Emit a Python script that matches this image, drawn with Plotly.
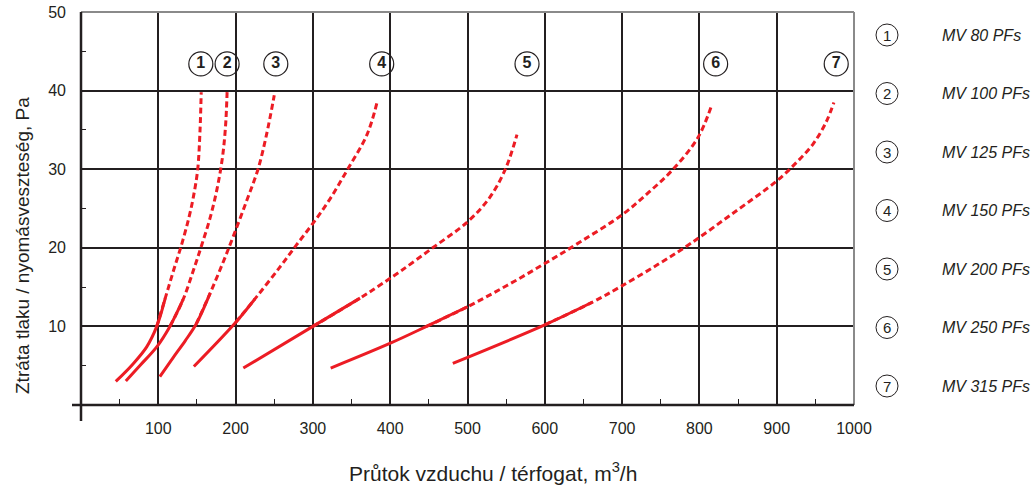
import plotly.graph_objects as go

# ---- data (flow m3/h, pressure loss Pa) ----
names = ["MV 80 PFs", "MV 100 PFs", "MV 125 PFs", "MV 150 PFs",
         "MV 200 PFs", "MV 250 PFs", "MV 315 PFs"]
numbers = ["1", "2", "3", "4", "5", "6", "7"]

flow_1 = [45, 67, 85, 98, 109, 120, 131, 140, 146, 151, 154, 155.5]
dp_1 = [3.0, 5.2, 7.4, 10.0, 13.6, 17.2, 20.7, 24.0, 26.8, 30.0, 35.0, 39.8]
solid_1 = 5

flow_2 = [58, 76, 98, 115, 132, 147, 156, 167, 176, 183, 187, 189]
dp_2 = [3.05, 5.0, 7.4, 10.0, 13.4, 17.6, 20.3, 23.8, 27.5, 31.5, 35.5, 39.8]
solid_2 = 5

flow_3 = [102, 119, 135, 149, 167, 184, 196, 214, 229, 240, 250]
dp_3 = [3.6, 6.0, 8.2, 10.3, 14.2, 18.2, 21.2, 25.9, 30.0, 34.4, 39.4]
solid_3 = 5

flow_4 = [146, 200, 225, 257, 279, 300, 322, 345, 370, 383]
dp_4 = [4.9, 10.5, 13.5, 17.5, 20.4, 23.1, 26.2, 30.0, 34.4, 38.5]
solid_4 = 3

flow_5 = [210, 300, 361, 386, 413, 455, 500, 528, 549, 564]
dp_5 = [4.7, 10.0, 13.6, 15.2, 17.0, 20.0, 23.3, 26.3, 30.0, 34.4]
solid_5 = 3

flow_6 = [323, 401, 447, 500, 551, 600, 645, 700, 735, 766, 798, 815]
dp_6 = [4.7, 7.9, 10.0, 12.5, 15.2, 18.0, 20.7, 24.2, 27.1, 30.0, 34.0, 37.9]
solid_6 = 4

flow_7 = [481, 600, 662, 697, 745, 788, 842, 900, 925, 947, 964, 974]
dp_7 = [5.3, 10.2, 13.1, 15.0, 17.8, 20.5, 24.3, 28.5, 30.8, 33.2, 36.0, 38.5]
solid_7 = 3

label_flow = [155, 189, 252, 389, 577, 821, 977]
label_dp = [43.4, 43.4, 43.4, 43.4, 43.4, 43.4, 43.4]

x_ticks = [100, 200, 300, 400, 500, 600, 700, 800, 900, 1000]
y_ticks = [10, 20, 30, 40, 50]
x_minor = [50, 150, 250, 350, 450, 550, 650, 750, 850, 950]
y_minor = [5, 15, 25, 35, 45]

series = [(flow_1, dp_1, solid_1), (flow_2, dp_2, solid_2), (flow_3, dp_3, solid_3),
          (flow_4, dp_4, solid_4), (flow_5, dp_5, solid_5), (flow_6, dp_6, solid_6),
          (flow_7, dp_7, solid_7)]

RED = "#ec1c24"
INK = "#231f20"
FONT = "Liberation Sans, Arial, Helvetica, sans-serif"

fig = go.Figure()
for (fx, fy, ns), nm in zip(series, names):
    fig.add_trace(go.Scatter(x=fx[ns - 2:], y=fy[ns - 2:], mode="lines", name=nm,
                             line=dict(color=RED, width=3, dash="6px,3.5px",
                                       shape="spline", smoothing=1.0),
                             showlegend=False, hoverinfo="skip"))
    fig.add_trace(go.Scatter(x=fx[:ns], y=fy[:ns], mode="lines", name=nm,
                             line=dict(color=RED, width=3, shape="spline", smoothing=1.0),
                             showlegend=False, hoverinfo="skip"))

fig.add_trace(go.Scatter(x=label_flow, y=label_dp, mode="markers+text",
                         text=["<b>%s</b>" % n for n in numbers],
                         textposition="middle center",
                         textfont=dict(family=FONT, size=16, color=INK),
                         marker=dict(symbol="circle-open", size=24,
                                     line=dict(color=INK, width=1.2), color=INK),
                         showlegend=False, hoverinfo="skip", cliponaxis=False))

# plot geometry (pixels)
L, R, T, B = 81, 181, 12, 84
W, H = 1035, 489
pw, ph = W - L - R, H - T - B

shapes = []
shapes.append(dict(type="line", xref="paper", yref="paper", x0=1, x1=1, y0=0, y1=1,
                   line=dict(color="#8a8a8a", width=2), layer="above"))
shapes.append(dict(type="line", xref="paper", yref="paper", x0=0, x1=1, y0=1, y1=1,
                   line=dict(color="#8a8a8a", width=2), layer="above"))
shapes.append(dict(type="line", xref="paper", yref="paper", x0=-9 / pw, x1=1, y0=0, y1=0,
                   line=dict(color=INK, width=2.5), layer="above"))
shapes.append(dict(type="line", xref="paper", yref="paper", x0=0, x1=0, y0=-16 / ph, y1=1,
                   line=dict(color=INK, width=2.5), layer="above"))

annotations = []
leg_cx = (887 - L) / pw
leg_tx = (940 - L) / pw
for i, (n, nm) in enumerate(zip(numbers, names)):
    cy_px = 35 + i * 58.5
    cy = (H - B - cy_px) / ph
    shapes.append(dict(type="circle", xref="paper", yref="paper",
                       xsizemode="pixel", ysizemode="pixel",
                       xanchor=leg_cx, yanchor=cy, x0=-11, x1=11, y0=-11, y1=11,
                       line=dict(color=INK, width=1)))
    annotations.append(dict(xref="paper", yref="paper", x=leg_cx, y=cy, text=n,
                            showarrow=False, xanchor="center", yanchor="middle",
                            font=dict(family=FONT, size=15, color=INK)))
    annotations.append(dict(xref="paper", yref="paper", x=leg_tx, y=cy,
                            text="<i>%s</i>" % nm, showarrow=False,
                            xanchor="left", yanchor="middle",
                            font=dict(family=FONT, size=16, color=INK)))

annotations.append(dict(xref="paper", yref="paper", x=(22 - L) / pw, y=(H - B - 246) / ph,
                        text="Ztráta tlaku / nyomásveszteség, Pa", textangle=-90,
                        showarrow=False, xanchor="center", yanchor="middle",
                        font=dict(family=FONT, size=19, color=INK)))
annotations.append(dict(xref="paper", yref="paper", x=(493 - L) / pw, y=(H - B - 472) / ph,
                        text="Průtok vzduchu / térfogat, m<sup>3</sup>/h",
                        showarrow=False, xanchor="center", yanchor="middle",
                        font=dict(family=FONT, size=21, color=INK)))

fig.update_layout(
    width=W, height=H, margin=dict(l=L, r=R, t=T, b=B, pad=0, autoexpand=False),
    paper_bgcolor="white", plot_bgcolor="white",
    shapes=shapes, annotations=annotations, showlegend=False,
    font=dict(family=FONT, color=INK),
)
fig.update_xaxes(range=[0, 1000], tickvals=x_ticks, ticktext=[str(v) for v in x_ticks],
                 showgrid=True, gridcolor=INK, gridwidth=1.6, zeroline=False,
                 showline=False, ticks="", ticklabelstandoff=12, automargin=False,
                 tickfont=dict(family=FONT, size=16, color=INK),
                 minor=dict(tickvals=x_minor, ticks="inside", ticklen=6, tickwidth=1.2,
                            tickcolor=INK, showgrid=False))
fig.update_yaxes(range=[0, 50], tickvals=y_ticks, ticktext=[str(v) for v in y_ticks],
                 showgrid=True, gridcolor=INK, gridwidth=1.6, zeroline=False,
                 showline=False, ticks="", ticklabelstandoff=14, automargin=False,
                 tickfont=dict(family=FONT, size=16, color=INK),
                 minor=dict(tickvals=y_minor, ticks="inside", ticklen=5, tickwidth=1.2,
                            tickcolor=INK, showgrid=False))

fig.write_html("out.html", config={"displayModeBar": False},
               post_script="document.body.style.margin='0px';document.body.style.overflow='hidden';")
